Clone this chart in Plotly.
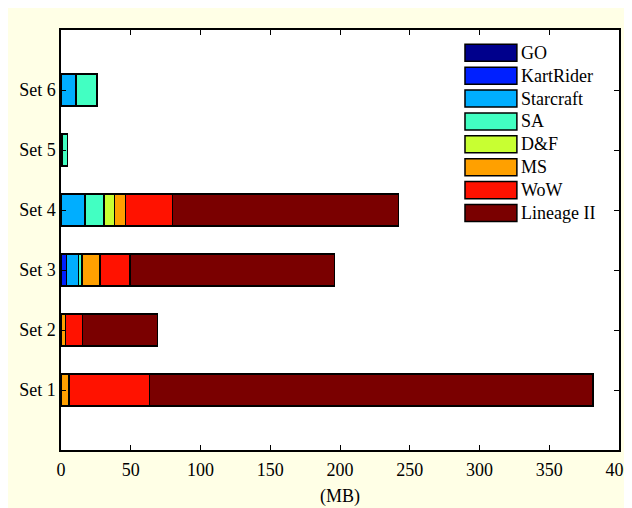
import plotly.graph_objects as go

categories = ["Set 1", "Set 2", "Set 3", "Set 4", "Set 5", "Set 6"]
cat_pos = [1, 2, 3, 4, 5, 6]
series_names = ["GO", "KartRider", "Starcraft", "SA", "D&F", "MS", "WoW", "Lineage II"]
series_colors = ["#00008C", "#0020FF", "#00AEFF", "#42FFC2", "#C8FF32", "#FFA000", "#FF1200", "#7A0000"]

go_vals        = [None, None, None, None, None, None]
kartrider_vals = [None, None, 4.1, None, None, None]
starcraft_vals = [None, None, 8.6, 17.2, 1.2, 10.8]
sa_vals        = [None, None, 2.4, 13.6, 3.3, 15.0]
df_vals        = [None, None, None, 7.4, None, None]
ms_vals        = [5.7, 3.4, 12.9, 8.1, None, None]
wow_vals       = [57.6, 11.9, 21.5, 33.5, None, None]
lineage_vals   = [318.1, 53.7, 146.4, 162.0, None, None]

series_values = [go_vals, kartrider_vals, starcraft_vals, sa_vals, df_vals,
                 ms_vals, wow_vals, lineage_vals]

x_ticks = [0, 50, 100, 150, 200, 250, 300, 350, 400]

FONT = "Liberation Serif, Times New Roman, serif"
FS = 18

fig = go.Figure()
for name, color, vals in zip(series_names, series_colors, series_values):
    fig.add_trace(go.Bar(
        y=cat_pos, x=vals, orientation="h", name=name,
        marker=dict(color=color, line=dict(color="black", width=1.5)),
        width=0.53, showlegend=False,
    ))

shapes = [
    dict(type="rect", xref="paper", yref="paper", x0=0, x1=1, y0=0, y1=1,
         fillcolor="white", line=dict(width=0), layer="below"),
]
annotations = []
# custom legend (MATLAB-style wide swatches)
lx0, lx1, ltx = 0.724, 0.817, 0.821
ytop, step, h = 0.966, 0.0545, 0.0405
for i, (name, color) in enumerate(zip(series_names, series_colors)):
    y1 = ytop - i * step
    y0 = y1 - h
    shapes.append(dict(type="rect", xref="paper", yref="paper", x0=lx0, x1=lx1, y0=y0, y1=y1,
                       fillcolor=color, line=dict(color="black", width=1.5), layer="above"))
    annotations.append(dict(xref="paper", yref="paper", x=ltx, y=(y0 + y1) / 2, text=name,
                            showarrow=False, xanchor="left", yanchor="middle",
                            font=dict(family=FONT, size=FS, color="black")))

fig.update_layout(
    barmode="stack",
    width=640, height=508,
    margin=dict(l=53, r=29, t=22, b=66, autoexpand=False),
    paper_bgcolor="#FFFFE6",
    plot_bgcolor="white",
    font=dict(family=FONT, size=FS, color="black"),
    shapes=shapes,
    annotations=annotations,
    showlegend=False,
)
fig.update_xaxes(
    range=[0, 400], tickvals=x_ticks, ticktext=[str(v) for v in x_ticks],
    ticks="inside", ticklen=5, tickwidth=1, tickcolor="black",
    showline=True, linecolor="black", linewidth=1.5, mirror="ticks",
    showgrid=False, zeroline=False, automargin=False,
    title=dict(text="(MB)", font=dict(family=FONT, size=FS), standoff=10),
    tickfont=dict(family=FONT, size=FS),
    ticklabelstandoff=3,
)
fig.update_yaxes(
    range=[0, 7], tickvals=cat_pos, ticktext=categories,
    ticks="inside", ticklen=5, tickwidth=1, tickcolor="black",
    showline=True, linecolor="black", linewidth=1.5, mirror="ticks",
    showgrid=False, zeroline=False, automargin=False,
    tickfont=dict(family=FONT, size=FS),
)

fig.write_html("out.html")
